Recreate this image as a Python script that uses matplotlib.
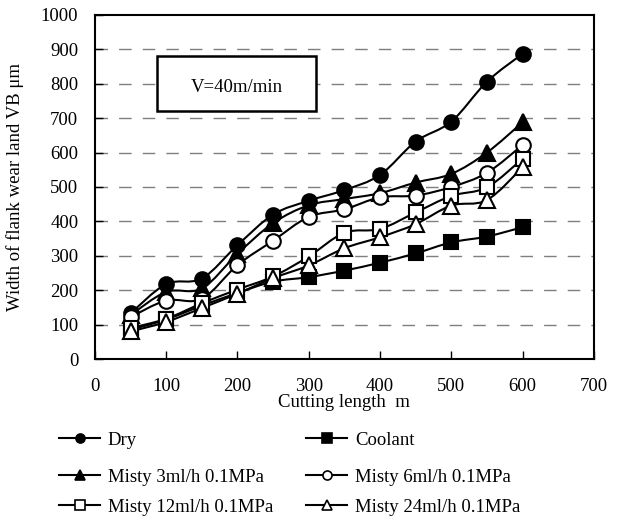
import matplotlib.pyplot as plt
import numpy as np
from matplotlib.path import Path
from matplotlib.patches import PathPatch, Rectangle
from matplotlib.lines import Line2D

plt.rcParams['font.family'] = ['Liberation Serif', 'DejaVu Serif']

# Cutting length (m)
length = [50, 100, 150, 200, 250, 300, 350, 400, 450, 500, 550, 600]

# Flank wear VB (um)
dry = [133, 218, 234, 331, 420, 460, 491, 535, 632, 690, 806, 887]
coolant = [85, 115, 155, 192, 225, 238, 257, 280, 307, 339, 356, 383]
misty3 = [128, 195, 205, 306, 395, 447, 465, 482, 513, 538, 600, 688]
misty6 = [122, 170, 175, 273, 344, 413, 435, 470, 475, 500, 541, 622]
misty12 = [90, 117, 162, 202, 240, 298, 367, 378, 426, 474, 499, 582]
misty24 = [80, 108, 148, 190, 235, 272, 322, 354, 392, 446, 462, 557]

labels = ['Dry', 'Coolant', 'Misty 3ml/h 0.1MPa', 'Misty 6ml/h 0.1MPa',
          'Misty 12ml/h 0.1MPa', 'Misty 24ml/h 0.1MPa']
series = [dry, coolant, misty3, misty6, misty12, misty24]
markers = ['o', 's', '^', 'o', 's', '^']
faces = ['black', 'black', 'black', 'white', 'white', 'white']


def smooth_path(x, y):
    # Excel style smoothed line: Catmull-Rom segments as cubic Bezier
    p = np.column_stack([x, y]).astype(float)
    verts = [p[0]]
    codes = [Path.MOVETO]
    n = len(p)
    for i in range(n - 1):
        p0 = p[i - 1] if i > 0 else p[i]
        p3 = p[i + 2] if i + 2 < n else p[i + 1]
        c1 = p[i] + (p[i + 1] - p0) / 6
        c2 = p[i + 1] - (p3 - p[i]) / 6
        verts += [c1, c2, p[i + 1]]
        codes += [Path.CURVE4] * 3
    return Path(verts, codes)


fig = plt.figure(figsize=(6.27, 5.2), dpi=100)
ax = fig.add_axes([0.1515, 0.3096, 0.7955, 0.6616])

ax.set_xlim(0, 700)
ax.set_ylim(0, 1000)
ax.set_xticks(range(0, 701, 100))
ax.set_yticks(range(0, 1001, 100))
ax.tick_params(direction='in', labelsize=13.5, length=6, width=1)
ax.tick_params(axis='x', pad=14)
ax.tick_params(axis='y', pad=12)
for s in ax.spines.values():
    s.set_linewidth(1.5)

# dashed grid lines
for g in range(100, 1000, 100):
    ax.axhline(g, color='#7f7f7f', lw=1, ls=(0, (9, 8)), zorder=0)

handles = []
for ys, lab, mk, fc in zip(series, labels, markers, faces):
    ax.add_patch(PathPatch(smooth_path(length, ys), fill=False,
                           edgecolor='black', lw=1.5, zorder=2))
    ms = 11 if mk == '^' else 10.5
    ax.plot(length, ys, ls='none', marker=mk, ms=ms, mfc=fc, mec='black',
            mew=1.5, zorder=3)
    handles.append(Line2D([], [], color='black', lw=1.5, marker=mk, ms=6.5,
                          mfc=fc, mec='black', mew=1.2, label=lab))

ax.set_xlabel('Cutting length  m', fontsize=13.5, labelpad=-1)
ax.set_ylabel('Width of flank wear land VB μm', fontsize=13.5, labelpad=12)

# annotation box
ax.add_patch(Rectangle((0.124, 0.722), 0.319, 0.16, transform=ax.transAxes,
                       fill=True, facecolor='white', edgecolor='black',
                       lw=1.8, zorder=4))
ax.text(0.285, 0.79, 'V=40m/min', transform=ax.transAxes, fontsize=13.5,
        ha='center', va='center', zorder=5)

# legend entries placed one by one (rows are not evenly spaced)
rows = [1 - 440 / 520, 1 - 477 / 520, 1 - 507 / 520]
cols = [59 / 627, 306 / 627]
for k, h in enumerate(handles):
    fig.legend(handles=[h], loc='center left',
               bbox_to_anchor=(cols[k % 2], rows[k // 2]),
               frameon=False, fontsize=13.5, handlelength=2.2,
               handletextpad=0.4, borderpad=0, borderaxespad=0)

fig.savefig('out.png', dpi=100)
